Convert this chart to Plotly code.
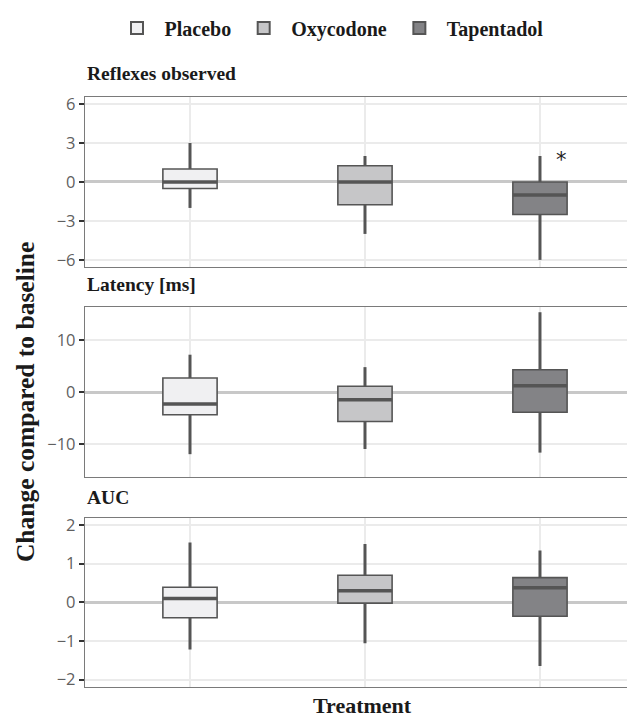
import plotly.graph_objects as go

treatments = ["Placebo", "Oxycodone", "Tapentadol"]
panel_titles = ["Reflexes observed", "Latency [ms]", "AUC"]
fills = ["#f0f0f2", "#c6c6c8", "#838386"]

# Reflexes observed
reflex_low = [-2.0, -4.0, -6.0]
reflex_q1 = [-0.5, -1.75, -2.5]
reflex_med = [0.0, 0.0, -1.0]
reflex_q3 = [1.0, 1.25, 0.0]
reflex_high = [3.0, 2.0, 2.0]

# Latency [ms]
latency_low = [-12.0, -11.0, -11.7]
latency_q1 = [-4.4, -5.7, -3.9]
latency_med = [-2.3, -1.5, 1.2]
latency_q3 = [2.7, 1.1, 4.3]
latency_high = [7.2, 4.8, 15.4]

# AUC
auc_low = [-1.22, -1.06, -1.65]
auc_q1 = [-0.40, -0.02, -0.36]
auc_med = [0.10, 0.30, 0.38]
auc_q3 = [0.39, 0.70, 0.64]
auc_high = [1.55, 1.51, 1.34]

y_tickvals = [[-6, -3, 0, 3, 6], [-10, 0, 10], [-2, -1, 0, 1, 2]]
y_ranges = [[-6.54, 6.54], [-16.4, 16.4], [-2.19, 2.19]]

# significance marker: panel 0, Tapentadol
star_panel = 0
star_treatment = 2
star_y = 2.0

panels = [
    (reflex_low, reflex_q1, reflex_med, reflex_q3, reflex_high),
    (latency_low, latency_q1, latency_med, latency_q3, latency_high),
    (auc_low, auc_q1, auc_med, auc_q3, auc_high),
]

domains = [[0.712, 1.0], [0.356, 0.644], [0.0, 0.287]]
title_y = [1.040, 0.682, 0.322]

BOX_W = 0.31
LINE = "#555555"
serif = "Liberation Serif"

fig = go.Figure()
xpos = [1, 2, 3]

for p, (lo, q1, med, q3, hi) in enumerate(panels):
    xa = "x" if p == 0 else f"x{p+1}"
    ya = "y" if p == 0 else f"y{p+1}"
    for j, name in enumerate(treatments):
        x = xpos[j]
        # whiskers
        fig.add_trace(go.Scatter(
            x=[x, x, None, x, x], y=[lo[j], q1[j], None, q3[j], hi[j]],
            mode="lines", line=dict(color=LINE, width=3),
            showlegend=False, hoverinfo="skip", xaxis=xa, yaxis=ya))
        # box
        fig.add_trace(go.Box(
            x=[x], q1=[q1[j]], median=[med[j]], q3=[q3[j]],
            lowerfence=[q1[j]], upperfence=[q3[j]],
            width=BOX_W, whiskerwidth=0,
            fillcolor=fills[j], line=dict(color=LINE, width=1.6),
            name=name, legendgroup=name, showlegend=(p == 0),
            hoverinfo="skip", xaxis=xa, yaxis=ya))
        # thick median
        fig.add_trace(go.Scatter(
            x=[x - BOX_W / 2, x + BOX_W / 2], y=[med[j], med[j]],
            mode="lines", line=dict(color=LINE, width=3.5),
            showlegend=False, hoverinfo="skip", xaxis=xa, yaxis=ya))

# The page body adds an 8px margin; the figure is sized so that it ends at the window edge.
layout = dict(
    width=627, height=710,
    paper_bgcolor="white", plot_bgcolor="white",
    margin=dict(l=77, r=0, t=89, b=31),
    showlegend=True,
    legend=dict(orientation="h", xref="container", yref="container",
                x=0.512, y=1 - 20 / 710, xanchor="center", yanchor="middle",
                font=dict(family=serif, size=20, color="#1a1a1a", weight="bold"),
                itemwidth=45, itemsizing="constant", traceorder="normal",
                tracegroupgap=0),
)

for p in range(3):
    xk = "xaxis" if p == 0 else f"xaxis{p+1}"
    yk = "yaxis" if p == 0 else f"yaxis{p+1}"
    ya = "y" if p == 0 else f"y{p+1}"
    xa = "x" if p == 0 else f"x{p+1}"
    layout[xk] = dict(
        domain=[0, 1], anchor=ya, range=[0.4, 3.543],
        tickvals=xpos, showticklabels=False, ticks="",
        showgrid=True, gridcolor="#ebebeb", gridwidth=1.6,
        showline=True, linecolor="#7a7a7a", linewidth=1.3, mirror=True,
        zeroline=False, fixedrange=True)
    layout[yk] = dict(
        domain=domains[p], anchor=xa, range=y_ranges[p],
        tickvals=y_tickvals[p], ticks="outside", ticklen=5, tickwidth=2,
        tickcolor="#333333",
        tickfont=dict(family="Open Sans", size=16.5, color="#5f5f5f"),
        showgrid=True, gridcolor="#ebebeb", gridwidth=1.6,
        zeroline=True, zerolinecolor="#c8c8c8", zerolinewidth=3,
        showline=True, linecolor="#7a7a7a", linewidth=1.3, mirror=False,
        fixedrange=True)

fig.update_layout(**layout)

annotations = []
for p in range(3):
    annotations.append(dict(
        text=panel_titles[p], xref="paper", yref="paper", x=0, y=title_y[p],
        xanchor="left", yanchor="middle", showarrow=False,
        font=dict(family=serif, size=19.5, color="#1a1a1a", weight="bold")))

annotations.append(dict(
    text="*", xref="x" if star_panel == 0 else f"x{star_panel+1}",
    yref="y" if star_panel == 0 else f"y{star_panel+1}",
    x=xpos[star_treatment], y=star_y, xshift=22, yshift=-4,
    showarrow=False, font=dict(family="DejaVu Sans", size=21, color="#222222")))

annotations.append(dict(
    text="Change compared to baseline", xref="paper", yref="paper",
    x=-0.109, y=0.483, textangle=-90, xanchor="center", yanchor="middle",
    showarrow=False, font=dict(family=serif, size=25.5, color="#1a1a1a", weight="bold")))

annotations.append(dict(
    text="Treatment", xref="paper", yref="paper", x=0.504, y=-0.032,
    xanchor="center", yanchor="middle", showarrow=False,
    font=dict(family=serif, size=22, color="#1a1a1a", weight="bold")))

fig.update_layout(annotations=annotations)

fig.write_html("out.html")
